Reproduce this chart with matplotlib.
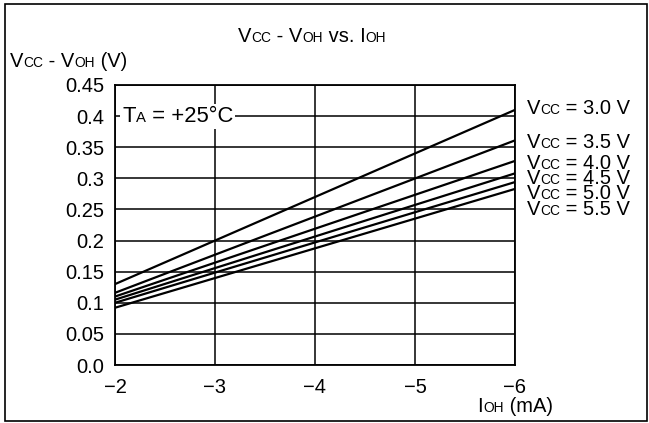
import matplotlib.pyplot as plt
import numpy as np
from matplotlib.offsetbox import TextArea, HPacker, AnnotationBbox
from matplotlib.patches import Rectangle

plt.rcParams['font.family'] = ['Liberation Sans', 'DejaVu Sans']

# data (lines are straight, end points only)
i_oh = [-2, -6]  # mA
vcc_labels = ['3.0', '3.5', '4.0', '4.5', '5.0', '5.5']
v_drop_30 = [0.130, 0.410]
v_drop_35 = [0.116, 0.361]
v_drop_40 = [0.110, 0.328]
v_drop_45 = [0.105, 0.308]
v_drop_50 = [0.100, 0.294]
v_drop_55 = [0.092, 0.283]
series = [v_drop_30, v_drop_35, v_drop_40, v_drop_45, v_drop_50, v_drop_55]

y_ticks = [0.0, 0.05, 0.1, 0.15, 0.2, 0.25, 0.3, 0.35, 0.4, 0.45]
y_tick_labels = ['0.0', '0.05', '0.1', '0.15', '0.2', '0.25', '0.3', '0.35', '0.4', '0.45']
x_ticks = [-2, -3, -4, -5, -6]

# y positions of the right hand labels (data units)
label_y = [0.413, 0.357, 0.324, 0.3, 0.275, 0.25]

W, H = 649, 423
FS = 14.5
SUB = 0.68


def rich_text(parts, fs):
    '''
    Row of text pieces on one baseline, small pieces play the subscripts
    '''
    boxes = []
    for txt, small in parts:
        size = fs*SUB if small else fs
        boxes.append(TextArea(txt, textprops=dict(fontsize=size, color='black')))
    return HPacker(children=boxes, align='baseline', pad=0, sep=0)


def place(host, parts, xy, coords, align, fs=FS, **kw):
    ab = AnnotationBbox(rich_text(parts, fs), xy, xycoords=coords,
                        box_alignment=align, frameon=False, pad=0, **kw)
    host.add_artist(ab)
    return ab


fig = plt.figure(figsize=(W/100, H/100), dpi=100)
ax = fig.add_axes([115/W, (H-365)/H, 400/W, 280/H])

for y in series:
    ax.plot(i_oh, y, color='black', linewidth=1.6, zorder=3)

ax.set_xlim(-2, -6)
ax.set_ylim(0, 0.45)
ax.set_xticks(x_ticks)
ax.set_yticks(y_ticks)
ax.set_yticklabels(y_tick_labels)
ax.tick_params(axis='both', length=0, labelsize=FS, colors='black')
ax.tick_params(axis='x', pad=9)
ax.tick_params(axis='y', pad=8)
ax.grid(True, color='black', linewidth=1.1)
for s in ax.spines.values():
    s.set_linewidth(1.3)

# temperature note sits on the 0.4 grid line with a white box
ta = AnnotationBbox(rich_text([('T', False), ('A', True), (' = +25°C', False)], 15.8),
                    (0.018, 0.4), xycoords=('axes fraction', 'data'),
                    box_alignment=(0, 0.5), frameon=True, pad=0.15,
                    bboxprops=dict(facecolor='white', edgecolor='none'))
ta.set_zorder(4)
ax.add_artist(ta)

# Vcc labels right of the plot
for lab, ly in zip(vcc_labels, label_y):
    ab = AnnotationBbox(rich_text([('V', False), ('CC', True), (' = %s V' % lab, False)], FS),
                        (1.03, ly), xycoords=('axes fraction', 'data'),
                        box_alignment=(0, 0.5), frameon=False, pad=0,
                        annotation_clip=False)
    ax.add_artist(ab)

# title and axis labels
place(fig, [('V', False), ('CC', True), (' - V', False), ('OH', True),
            (' vs. I', False), ('OH', True)],
      (312/W, 1-46/H), 'figure fraction', (0.5, 0))
place(fig, [('V', False), ('CC', True), (' - V', False), ('OH', True), (' (V)', False)],
      (10/W, 1-71/H), 'figure fraction', (0, 0))
place(fig, [('I', False), ('OH', True), (' (mA)', False)],
      (515/W, 1-416/H), 'figure fraction', (0.5, 0))

# frame around the whole picture
fig.add_artist(Rectangle((5/W, 2/H), 642/W, 417/H, transform=fig.transFigure,
                         fill=False, edgecolor='black', linewidth=1.2))

fig.savefig('out.png', dpi=100)
